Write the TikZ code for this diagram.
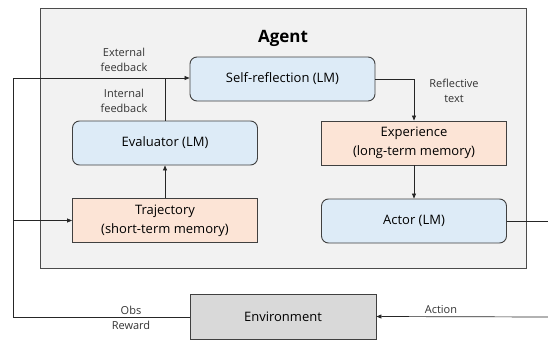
\documentclass[tikz,border=0pt]{standalone}
\usepackage{fontspec}
\setmainfont{Open Sans}
\usetikzlibrary{arrows.meta}

\definecolor{lmblue}{HTML}{DDEBF7}
\definecolor{memorange}{HTML}{FCE4D6}
\definecolor{envgray}{HTML}{D9D9D9}
\definecolor{agentbg}{HTML}{F2F2F2}
\definecolor{edge}{HTML}{404040}

\begin{document}
\begin{tikzpicture}[x=1pt, y=-1pt,
	lmbox/.style={draw=edge, fill=lmblue, rounded corners=7pt, line width=0.9pt, align=center,
		minimum width=185pt, minimum height=44pt, font=\fontsize{13}{19}\selectfont},
	membox/.style={draw=edge, fill=memorange, line width=0.9pt, align=center,
		minimum width=185pt, minimum height=44pt, font=\fontsize{13}{19}\selectfont},
	lbl/.style={align=center, text=black!80, font=\fontsize{11}{15}\selectfont},
	flow/.style={draw=black!85, line width=0.7pt},
	tip/.style={-{Triangle[length=5pt,width=4pt]}}]
	\useasboundingbox (0,0) rectangle (548,340);
	% agent frame
	\node[draw=black!70, fill=agentbg, line width=1pt, minimum width=486pt, minimum height=260pt] (agent) at (283,138) {};
	\node[font=\fontsize{17}{20}\selectfont\bfseries] (agenttitle) at (283,38) {Agent};
	% boxes
	\node[lmbox] (refl) at (282.5,79) {Self-reflection (LM)};
	\node[lmbox] (eval) at (165,143) {Evaluator (LM)};
	\node[membox] (traj) at (165,220.5) {Trajectory\\(short-term memory)};
	\node[membox] (exper) at (414,143) {Experience\\(long-term memory)};
	\node[lmbox] (actor) at (414,221) {Actor (LM)};
	\node[draw=edge, fill=envgray, line width=0.9pt, minimum width=186pt, minimum height=45pt,
		font=\fontsize{13}{19}\selectfont] (env) at (283,316.5) {Environment};
	% loose ends of the loop
	\coordinate (obsturn) at (13,317);
	\coordinate (fbturn) at (13,78);
	\coordinate (actout) at (548,221);
	\coordinate (actin) at (548,317);
	% connectors
	\draw[flow] (env.west |- obsturn) -- (obsturn) -- (fbturn);
	\draw[flow, tip] (fbturn) -- (refl.west |- fbturn);
	\draw[flow, tip] (obsturn |- traj.west) -- (traj.west);
	\draw[flow, tip] (traj.north) -- (eval.south);
	\draw[flow] (eval.north) -- (eval.north |- fbturn);
	\draw[flow, tip] (refl.east) -| (exper.north);
	\draw[flow, tip] (exper.south) -- (actor.north);
	\draw[flow] (actor.east) -- (actout);
	\draw[flow, tip] (actin) -- (env.east);
	% labels
	\node[lbl] (extfb) at (124,59.5) {External\\feedback};
	\node[lbl] (intfb) at (124,100.5) {Internal\\feedback};
	\node[lbl] (refltext) at (454,91) {Reflective\\text};
	\node[lbl] (obsrew) at (131,317.5) {Obs\\Reward};
	\node[lbl] (action) at (441,310) {Action};
\end{tikzpicture}
\end{document}
